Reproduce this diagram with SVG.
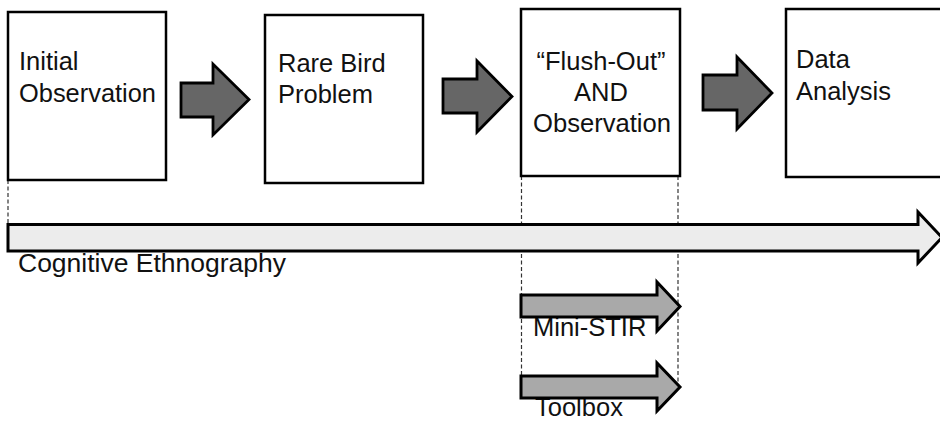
<svg xmlns="http://www.w3.org/2000/svg" width="940" height="422" viewBox="0 0 940 422">
<style>
.box{fill:#fff;stroke:#000;stroke-width:2.5}
.t{font-family:"Liberation Sans",Arial,sans-serif;font-size:25.5px;fill:#111}
.dash{stroke:#333;stroke-width:1.2;stroke-dasharray:4 2.5;fill:none}
.dark{fill:#666;stroke:#000;stroke-width:2.8;stroke-linejoin:miter}
.light{fill:#ececec;stroke:#000;stroke-width:3}
.mid{fill:#a9a9a9;stroke:#000;stroke-width:3}
</style>
<rect width="940" height="422" fill="#fff"/>
<g id="connectors">
<line class="dash" x1="8" y1="180" x2="8" y2="224"/>
<line class="dash" x1="521.5" y1="176" x2="521.5" y2="376"/>
<line class="dash" x1="678" y1="176" x2="678" y2="386"/>
<path id="step1" class="dark" d="M181,83 H213 V64 L249,99.5 L213,135 V117 H181 Z"/>
<path id="step2" class="dark" d="M443,79 H477 V61 L512,96.5 L477,132 V113 H443 Z"/>
<path id="step3" class="dark" d="M703,75 H737 V57 L772,93 L737,129 V110 H703 Z"/>
</g>
<g id="n1">
<rect class="box" x="8" y="12" width="158" height="168"/>
<text class="t" x="19" y="70">Initial</text>
<text class="t" x="19" y="102" textLength="137" lengthAdjust="spacingAndGlyphs">Observation</text>
</g>
<g id="n2">
<rect class="box" x="265" y="15" width="158" height="168"/>
<text class="t" x="278" y="72">Rare Bird</text>
<text class="t" x="278" y="103">Problem</text>
</g>
<g id="n3">
<rect class="box" x="521" y="9" width="159" height="167"/>
<text class="t" x="601" y="70" text-anchor="middle">“Flush-Out”</text>
<text class="t" x="601" y="101" text-anchor="middle">AND</text>
<text class="t" x="602" y="132" text-anchor="middle" textLength="138" lengthAdjust="spacingAndGlyphs">Observation</text>
</g>
<g id="n4">
<rect class="box" x="786" y="9" width="170" height="168"/>
<text class="t" x="796" y="68">Data</text>
<text class="t" x="796" y="100">Analysis</text>
</g>
<g id="cognitive">
<text class="t" x="18" y="272" textLength="268" lengthAdjust="spacingAndGlyphs">Cognitive Ethnography</text>
<path class="light" d="M8,224.5 H918 V212 L942,237.5 L918,263 V251 H8 Z"/>
</g>
<g id="ministir">
<text class="t" x="533" y="336">Mini-STIR</text>
<path class="mid" d="M521,295 H657 V282 L680,306.5 L657,331 V317 H521 Z"/>
</g>
<g id="toolbox">
<text class="t" x="535" y="416">Toolbox</text>
<path class="mid" d="M521,376 H657 V363 L680,387 L657,411 V398 H521 Z"/>
</g>
</svg>
